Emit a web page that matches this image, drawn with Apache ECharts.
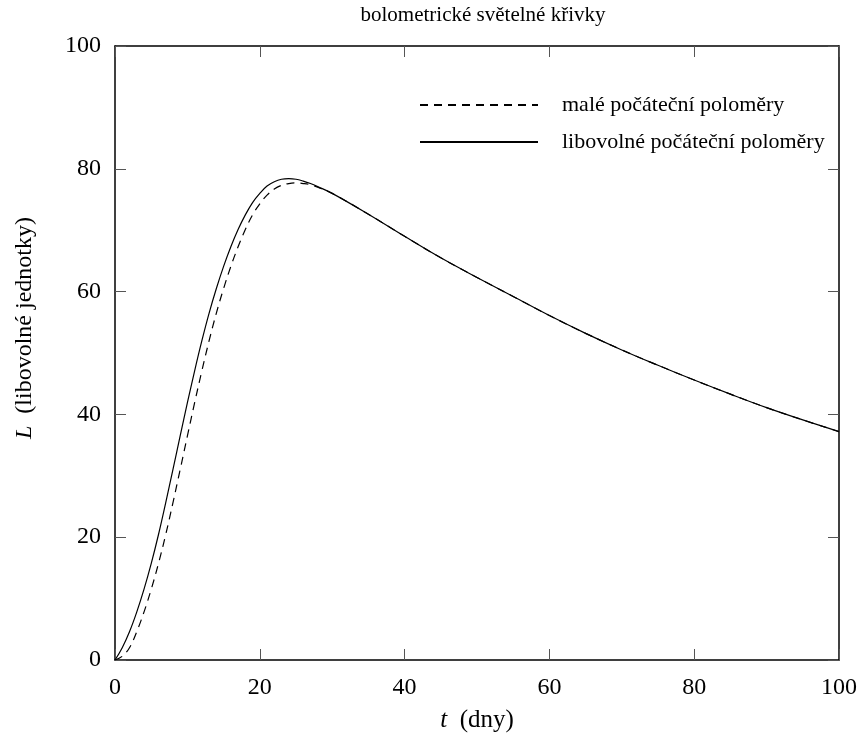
<!DOCTYPE html>
<html>
<head>
<meta charset="utf-8">
<script src="https://cdn.jsdelivr.net/npm/echarts@6/dist/echarts.min.js"></script>
<style>html,body{margin:0;padding:0;background:#fff}#c{width:860px;height:738px}</style>
</head>
<body>
<div id="c"></div>
<script>
// Data
var titleText = 'bolometrické světelné křivky';
var seriesNames = ['malé počáteční poloměry', 'libovolné počáteční poloměry'];
var xTicks = [0, 20, 40, 60, 80, 100];
var yTicks = [0, 20, 40, 60, 80, 100];

var tSolid = [0,1,2,3,4,5,6,7,8,9,10,11,12,13,14,15,16,17,18,19,20,21,22,23,24,25,26,27,28,30,35,40,45,50,55,60,65,70,75,80,85,90,95,100];
var lSolid = [0,2.0,4.6,7.8,11.5,15.7,20.4,25.6,31.0,36.5,41.9,47.1,52.0,56.5,60.5,64.1,67.3,70.1,72.5,74.5,76.0,77.2,77.9,78.3,78.4,78.3,78.0,77.6,77.1,76.0,72.6,69.0,65.5,62.3,59.2,56.1,53.2,50.5,48.0,45.6,43.3,41.1,39.1,37.2];

var tDashed = [0,1,2,3,4,5,6,7,8,9,10,11,12,13,14,15,16,17,18,19,20,21,22,23,24,25,26,27,28,30,35,40,45,50,55,60,65,70,75,80,85,90,95,100];
var lDashed = [0,0.6,2.0,4.6,7.8,11.5,15.7,20.4,25.6,31.0,36.5,41.9,47.1,52.0,56.5,60.5,64.1,67.3,70.1,72.5,74.3,75.7,76.7,77.3,77.6,77.7,77.6,77.4,77.0,76.0,72.6,69.0,65.5,62.3,59.2,56.1,53.2,50.5,48.0,45.6,43.3,41.1,39.1,37.2];

function pairs(xs, ys){ return xs.map(function(x,i){ return [x, ys[i]]; }); }

var FONT = '"Liberation Serif", "DejaVu Serif", serif';
var chart = echarts.init(document.getElementById('c'), null, {renderer:'canvas'});

var axisCommon = {
  type:'value', min:0, max:100, interval:20,
  axisLine:{show:true, onZero:false, lineStyle:{color:'#000', width:1.5}},
  axisTick:{show:true, inside:true, length:11, lineStyle:{color:'#555', width:1}},
  splitLine:{show:false}
};

chart.setOption({
  animation:false,
  backgroundColor:'#fff',
  title:{text:titleText, left:478, textAlign:'center', top:0,
    textStyle:{fontFamily:FONT, fontSize:21, fontWeight:'normal', color:'#000'}},
  legend:{
    orient:'vertical', left:414, top:89, itemWidth:118, itemHeight:14, itemGap:15,
    data:seriesNames,
    itemStyle:{opacity:0},
    textStyle:{fontFamily:FONT, fontSize:22, color:'#000', padding:[0,0,0,19]}
  },
  grid:{left:115, right:20, top:46, bottom:76},
  xAxis:[
    Object.assign({}, axisCommon, {
      position:'bottom',
      name:'{i|t}  (dny)', nameLocation:'middle', nameGap:48,
      nameTextStyle:{fontFamily:FONT, fontSize:25, color:'#000',
        rich:{i:{fontFamily:FONT, fontStyle:'italic', fontSize:25, color:'#000'}}},
      axisLabel:{show:true, fontFamily:FONT, fontSize:24, color:'#000', margin:16,
        formatter:function(v){ return xTicks.indexOf(v) >= 0 ? String(v) : ''; }}
    }),
    Object.assign({}, axisCommon, {position:'top', axisLabel:{show:false}})
  ],
  yAxis:[
    Object.assign({}, axisCommon, {
      position:'left',
      name:'{i|L}  (libovolné jednotky)', nameLocation:'middle', nameGap:78,
      nameTextStyle:{fontFamily:FONT, fontSize:24, color:'#000', padding:[0,0,0,50],
        rich:{i:{fontFamily:FONT, fontStyle:'italic', fontSize:24, color:'#000'}}},
      axisLabel:{show:true, fontFamily:FONT, fontSize:24, color:'#000', margin:14,
        formatter:function(v){ return yTicks.indexOf(v) >= 0 ? String(v) : ''; }}
    }),
    Object.assign({}, axisCommon, {position:'right', axisLabel:{show:false}})
  ],
  series:[
    {name:seriesNames[0], type:'line', data:pairs(tDashed, lDashed), showSymbol:false, symbol:'none',
      smooth:0.4, lineStyle:{color:'#000', width:1.2, type:[8,6]}, itemStyle:{color:'#000'}, z:2},
    {name:seriesNames[1], type:'line', data:pairs(tSolid, lSolid), showSymbol:false, symbol:'none',
      smooth:0.4, lineStyle:{color:'#000', width:1.2, type:'solid'}, itemStyle:{color:'#000'}, z:3}
  ]
});
</script>
</body>
</html>
